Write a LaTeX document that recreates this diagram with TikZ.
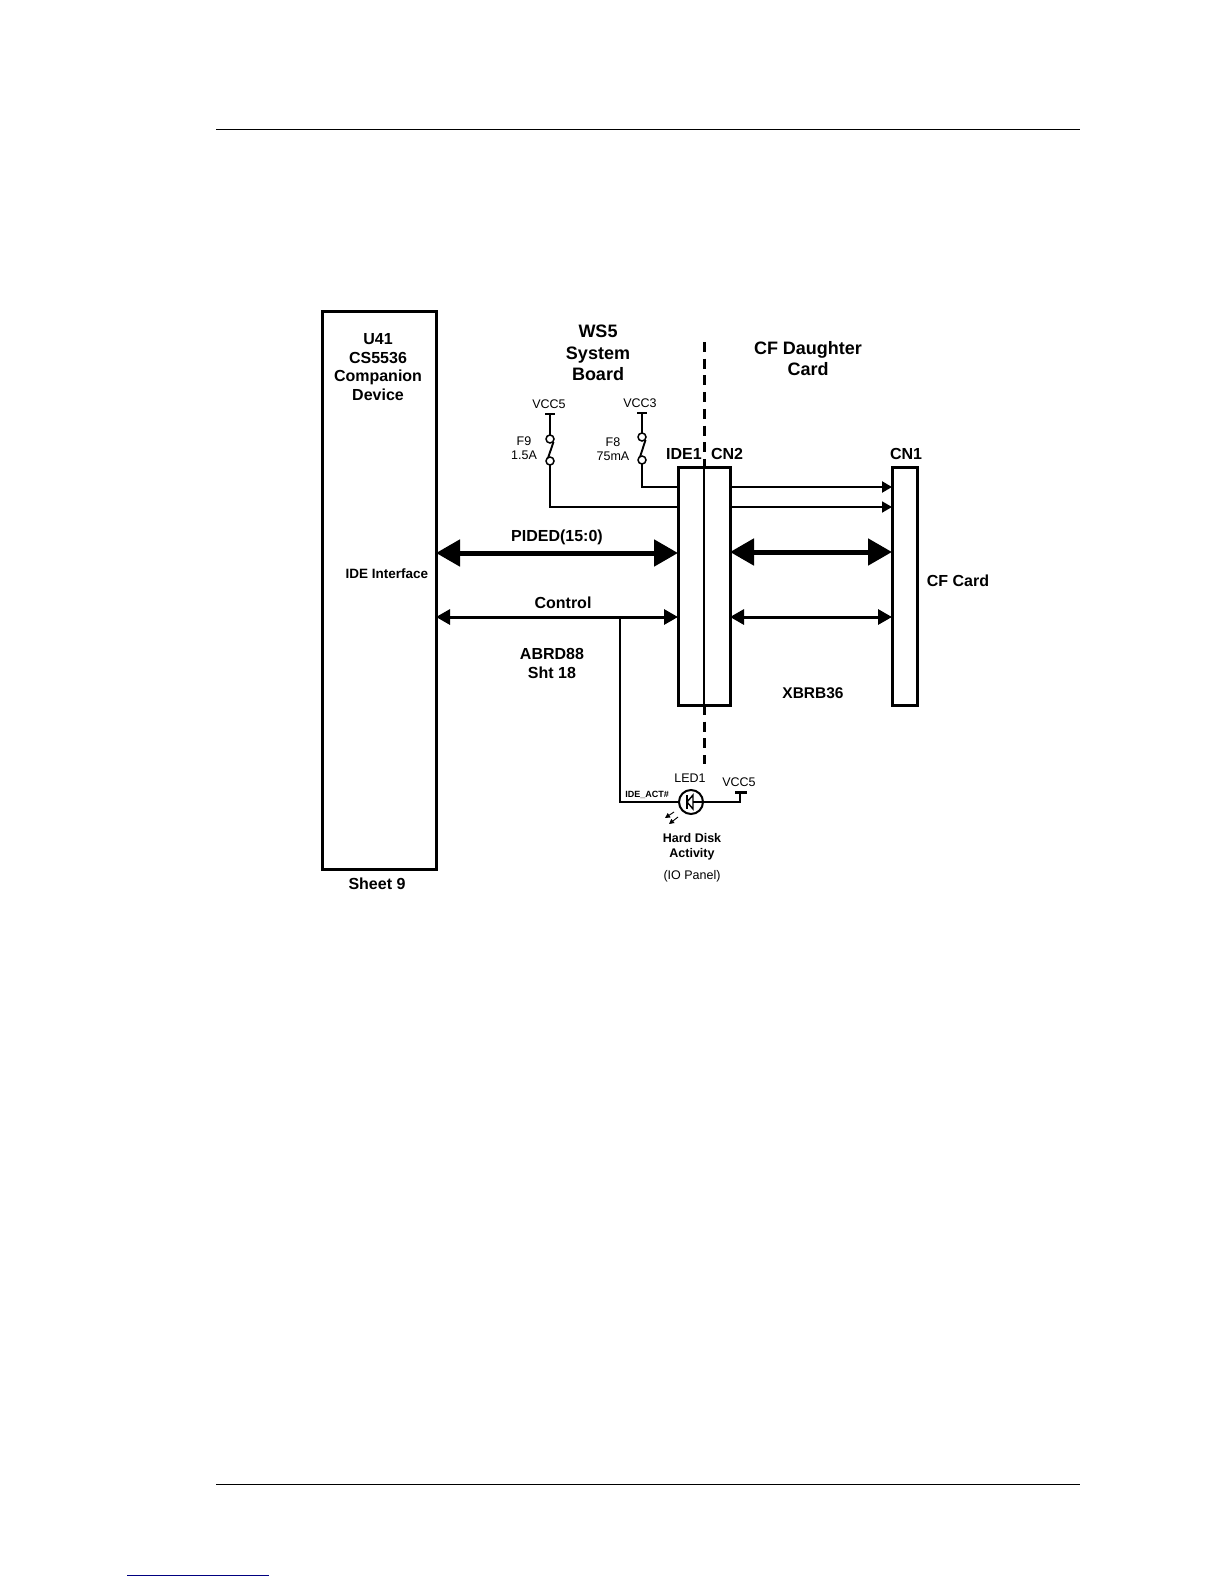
\documentclass[tikz,border=0pt]{standalone}
\usepackage{fontspec}
\setmainfont{Liberation Sans}
\usetikzlibrary{arrows.meta,calc}
\newcommand{\fsz}[1]{\fontsize{#1}{#1}\selectfont}
\tikzset{
  x=1pt,y=-1pt,
  blockbox/.style={draw,line width=3pt,minimum width=#1,inner sep=0,outer sep=0},
  lab/.style={inner sep=0,align=center,text height=11.5pt,text depth=0pt,font=\fsz{16}\bfseries},
  headlab/.style={inner sep=0,align=center,text height=13pt,text depth=0pt,font=\fsz{18}\bfseries},
  small/.style={inner sep=0,align=center,text height=9pt,text depth=0pt,font=\fsz{12.5}},
  smallb/.style={inner sep=0,align=center,text height=9pt,text depth=0pt,font=\fsz{12.5}\bfseries},
  wire/.style={line width=1.9pt},
  bigbus/.style={line width=5pt,{Triangle[length=24pt,width=26pt]}-{Triangle[length=24pt,width=26pt]}},
  ctlbus/.style={line width=3pt,{Triangle[length=14pt,width=15pt]}-{Triangle[length=14pt,width=15pt]}},
  feed/.style={-{Triangle[length=10pt,width=11pt]}},
  fuse/.style={circle,draw,line width=1.5pt,minimum size=8pt,inner sep=0,outer sep=0,fill=white},
  ledc/.style={circle,draw,line width=2pt,minimum size=24pt,inner sep=0,outer sep=0},
}
\begin{document}
\begin{tikzpicture}
\useasboundingbox (0,0) rectangle (1224,1584);
% page rules
\coordinate (rt1) at (216,129); \coordinate (rt2) at (1080,129);
\coordinate (rb1) at (216,1484); \coordinate (rb2) at (1080,1484);
\coordinate (bl1) at (127,1575); \coordinate (bl2) at (269,1575);
\draw[line width=.9pt] (rt1) -- (rt2);
\draw[line width=.9pt] (rb1) -- (rb2);
\draw[line width=1pt,blue!50!black] (bl1) -- (bl2);
% blocks
\node[blockbox=114pt,minimum height=558pt] (u41) at (379,590) {};
\node[blockbox=52pt,minimum height=238pt] (ide) at (704,586) {};
\node[blockbox=25pt,minimum height=238pt] (cn1) at (904.5,586) {};
% boundary
\coordinate (d1) at (704,342); \coordinate (d2) at (704,467); \coordinate (d3) at (704,705); \coordinate (d4) at (704,764);
\draw[line width=3pt,dash pattern=on 10pt off 6.7pt] (d1) -- (d2);
\draw[line width=2.5pt] (d2) -- (d3);
\draw[line width=3pt,dash pattern=on 10pt off 6.7pt] (d3) -- (d4);
% buses
\draw[bigbus] (u41.east |- 0,553) -- (ide.west |- 0,553);
\draw[bigbus] (ide.east |- 0,552) -- (cn1.west |- 0,552);
\draw[ctlbus] (u41.east |- 0,617) -- (ide.west |- 0,617);
\draw[ctlbus] (ide.east |- 0,617) -- (cn1.west |- 0,617);
\draw[feed,line width=2.2pt] (ide.east |- 0,487) -- (cn1.west |- 0,487);
\draw[feed,line width=1.8pt] (ide.east |- 0,507) -- (cn1.west |- 0,507);
% fuse F9
\coordinate (v5) at (550,414);
\node[fuse] (f9a) at (550,439) {};
\node[fuse] (f9b) at (550,461) {};
\coordinate (v5l) at (545,414); \coordinate (v5r) at (555,414);
\coordinate (f9s1) at (553.5,442); \coordinate (f9s2) at (548,458);
\coordinate (f9c) at (550,507);
\draw[wire] (v5l) -- (v5r);
\draw[wire] (v5) -- (f9a);
\draw[wire] (f9s1) -- (f9s2);
\draw[wire] (f9b) -- (f9c) -- (ide.west |- f9c);
% fuse F8
\coordinate (v3) at (642,413);
\node[fuse] (f8a) at (642,437) {};
\node[fuse] (f8b) at (642,460) {};
\coordinate (v3l) at (637,413); \coordinate (v3r) at (647,413);
\coordinate (f8s1) at (645.5,440); \coordinate (f8s2) at (640,457);
\coordinate (f8c) at (642,487);
\draw[wire] (v3l) -- (v3r);
\draw[wire] (v3) -- (f8a);
\draw[wire] (f8s1) -- (f8s2);
\draw[wire] (f8b) -- (f8c) -- (ide.west |- f8c);
% LED branch
\coordinate (tap) at (620,617);
\coordinate (bend) at (620,802);
\node[ledc] (led) at (691,802) {};
\coordinate (vt) at (740,802);
\coordinate (vtop) at (740,792);
\coordinate (vl) at (735,792); \coordinate (vr) at (747,792);
\draw[wire] (tap) -- (bend) -- (led);
\draw[wire] (led) -- (vt) -- (vtop);
\draw[line width=3pt] (vl) -- (vr);
\coordinate (k1) at (687,795); \coordinate (k2) at (687,809);
\coordinate (a1) at (693,795); \coordinate (a2) at (693,809); \coordinate (ap) at (687,802); \coordinate (am) at (693,802);
\draw[line width=1.4pt] (k1) -- (k2);
\draw[line width=1.4pt] (a1) -- (a2) -- (ap) -- cycle;
\draw[line width=2pt] (am) -- (led.east);
\coordinate (r1s) at (674,812); \coordinate (r1e) at (665,818);
\coordinate (r2s) at (678,817); \coordinate (r2e) at (669,824);
\draw[line width=.9pt,-{Triangle[length=5pt,width=5pt]}] (r1s) -- (r1e);
\draw[line width=.9pt,-{Triangle[length=5pt,width=5pt]}] (r2s) -- (r2e);
% labels
\node[lab] (t1) at (378,339) {U41};
\node[lab] (t2) at (378,358) {CS5536};
\node[lab] (t3) at (378,376) {Companion};
\node[lab] (t4) at (378,394.5) {Device};
\node[lab] (t5) at (377,884) {Sheet 9};
\node[lab,font=\fsz{13.5}\bfseries] (t6) at (387,573) {IDE Interface};
\node[headlab] (t7) at (598,331) {WS5};
\node[headlab] (t8) at (598,352.5) {System};
\node[headlab] (t9) at (598,374) {Board};
\node[headlab] (t10) at (808,348) {CF Daughter};
\node[headlab] (t11) at (808,369) {Card};
\node[small] (t12) at (549,404) {VCC5};
\node[small] (t13) at (640,403) {VCC3};
\node[small] (t14) at (524,441) {F9};
\node[small] (t15) at (524,455) {1.5A};
\node[small] (t16) at (613,442) {F8};
\node[small] (t17) at (613,456) {75mA};
\node[lab] (t18) at (684,454) {IDE1};
\node[lab] (t19) at (727,454) {CN2};
\node[lab] (t20) at (906,454) {CN1};
\node[lab] (t21) at (557,536) {PIDED(15:0)};
\node[lab] (t22) at (563,603) {Control};
\node[lab] (t23) at (552,654) {ABRD88};
\node[lab] (t24) at (552,673) {Sht 18};
\node[lab,font=\fsz{15.5}\bfseries] (t25) at (813,693) {XBRB36};
\node[lab] (t26) at (958,581) {CF Card};
\node[small] (t27) at (690,778) {LED1};
\node[small] (t28) at (739,782) {VCC5};
\node[inner sep=0,text height=6.5pt,text depth=0pt,font=\fsz{9}\bfseries] (t29) at (647,794) {IDE\_ACT\#};
\node[smallb] (t30) at (692,838) {Hard Disk};
\node[smallb] (t31) at (692,853) {Activity};
\node[small] (t32) at (692,875) {(IO Panel)};
\end{tikzpicture}
\end{document}
